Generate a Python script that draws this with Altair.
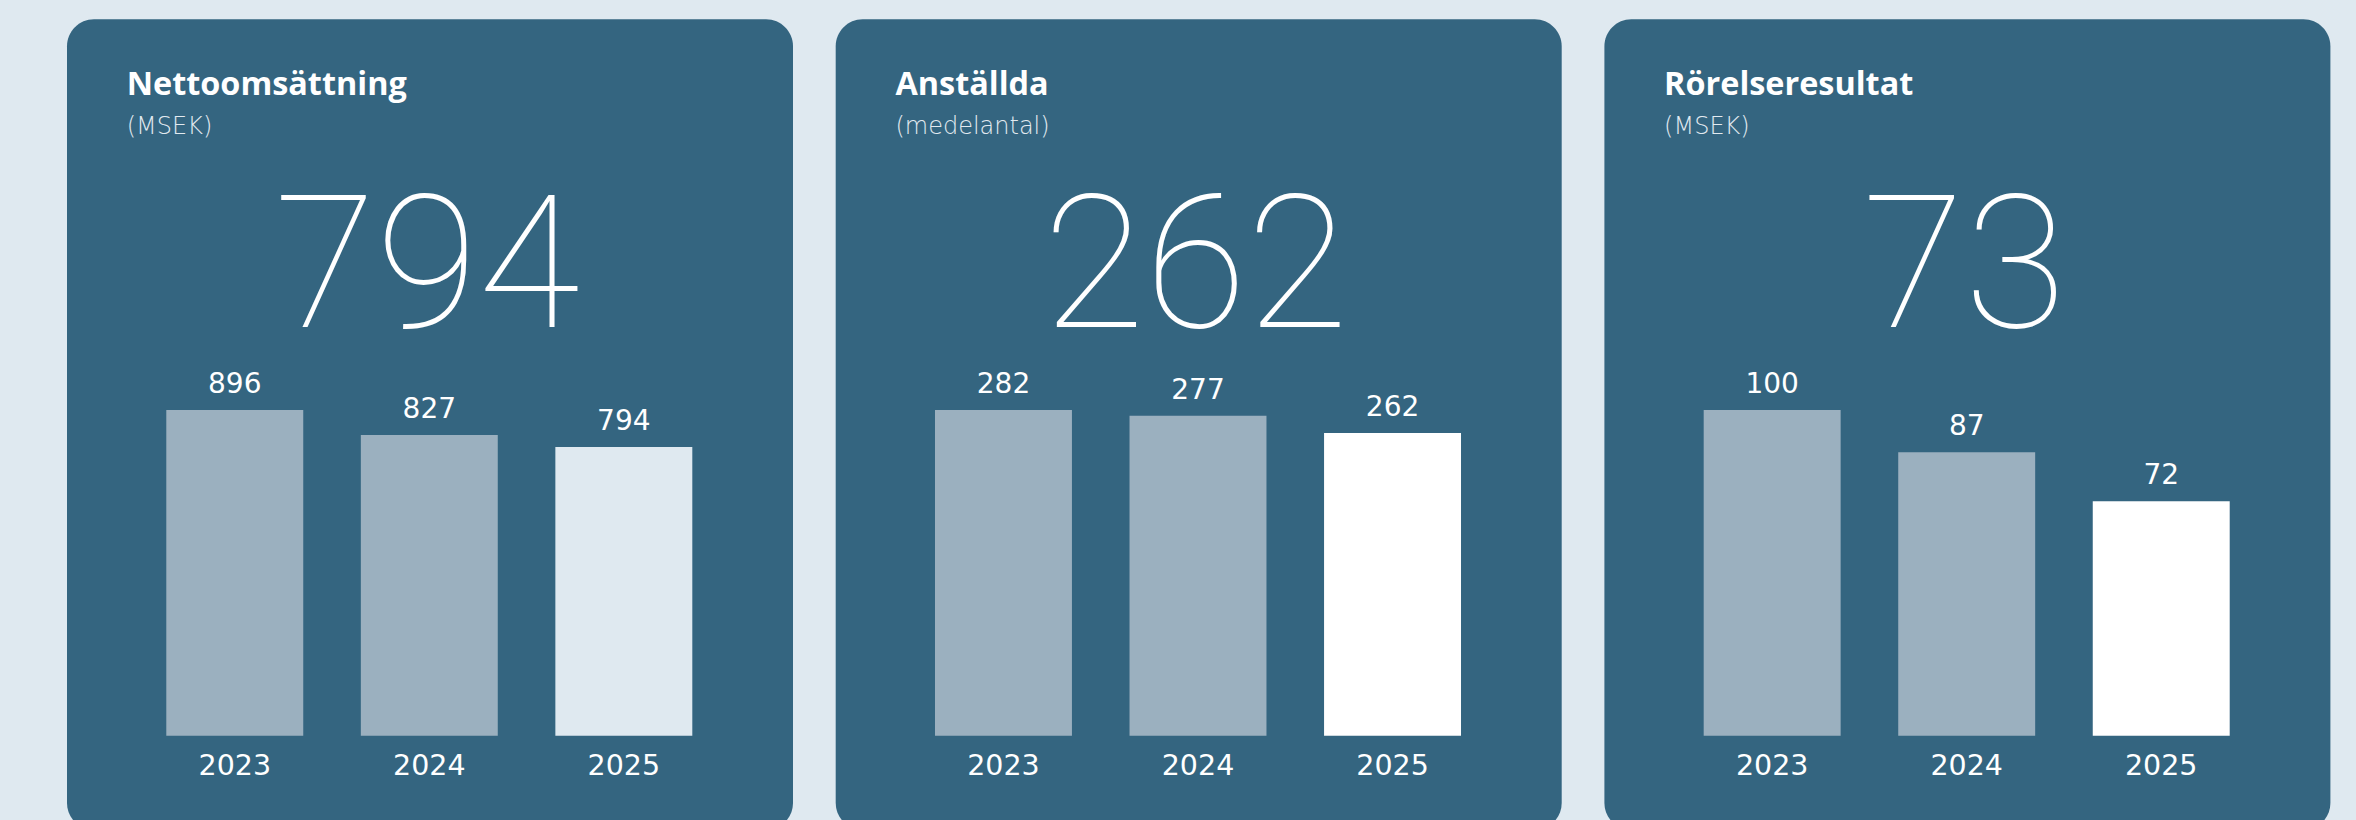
import altair as alt
import pandas as pd

# ---- data ----
years = ["2023", "2024", "2025"]
titles = ["Nettoomsättning", "Anställda", "Rörelseresultat"]
subtitles = ["(MSEK)", "(medelantal)", "(MSEK)"]
headline = [794, 262, 73]
netsales = [896, 827, 794]
employees = [282, 277, 262]
ebit = [100, 87, 72]
series = [netsales, employees, ebit]

# ---- styles / layout ----
BG = "#dfe9f0"
PANEL = "#346580"
GREY = "#9bb0bf"
LAST = ["#dfe9f0", "#ffffff", "#ffffff"]
W, H = 2356, 820
PANEL_LEFT = [67.0, 835.7, 1604.4]
PANEL_W = 726.0
PANEL_TOP = 19.3
BAR_BOTTOM = 735.7
BAR_TOP = 410.0

panels = []
for i in range(3):
    L = PANEL_LEFT[i]
    df = pd.DataFrame({"year": years, "value": series[i]})
    info = pd.DataFrame({"title": [titles[i]], "sub": [subtitles[i]], "head": [headline[i]]})

    xenc = alt.X("year:N", sort=years,
                 scale=alt.Scale(range=[L + 70.5, L + 654.1], paddingInner=0.296, paddingOuter=0.148),
                 axis=None)
    yenc = alt.Y("value:Q", scale=alt.Scale(range=[BAR_BOTTOM, BAR_TOP], zero=True, nice=False), axis=None)

    rect = alt.Chart(info).mark_rect(color=PANEL, cornerRadius=27).encode(
        x=alt.value(L), x2=alt.value(L + PANEL_W),
        y=alt.value(PANEL_TOP), y2=alt.value(830))

    bars = alt.Chart(df).mark_bar().encode(
        x=xenc, y=yenc,
        color=alt.Color("year:N", scale=alt.Scale(domain=years, range=[GREY, GREY, LAST[i]]), legend=None))

    vals = alt.Chart(df).mark_text(dy=-17, baseline="alphabetic", font="DejaVu Sans",
                                   fontSize=28, color="white").encode(x=xenc, y=yenc, text="value:Q")

    yrs = alt.Chart(df).mark_text(baseline="alphabetic", font="DejaVu Sans",
                                  fontSize=28.5, color="white").encode(x=xenc, y=alt.value(774.5), text="year:N")

    title = alt.Chart(info).mark_text(align="left", baseline="alphabetic", font="Open Sans",
                                      fontWeight="bold", fontSize=32.4, color="white").encode(
        x=alt.value(L + 59.7), y=alt.value(95), text="title:N")

    sub = alt.Chart(info).mark_text(align="left", baseline="alphabetic", font="DejaVu Sans",
                                    fontWeight=200, fontSize=24, color="#e2eaf0").encode(
        x=alt.value(L + 59.7), y=alt.value(134), text="sub:N")

    big = alt.Chart(info).mark_text(align="center", baseline="alphabetic", font="Roboto",
                                    fontWeight=100, fontSize=186, color="white").encode(
        x=alt.value(L + 360), y=alt.value(326.7), text="head:Q")

    panels.append(alt.layer(rect, bars, vals, yrs, title, sub, big))

chart = alt.layer(*panels).resolve_scale(
    x="independent", y="independent", color="independent"
).properties(
    width=W, height=H, padding=0, background=BG,
    autosize=alt.AutoSizeParams(type="none")
).configure_view(stroke=None)

chart.save("out.html", embed_options={"renderer": "svg", "actions": False})
